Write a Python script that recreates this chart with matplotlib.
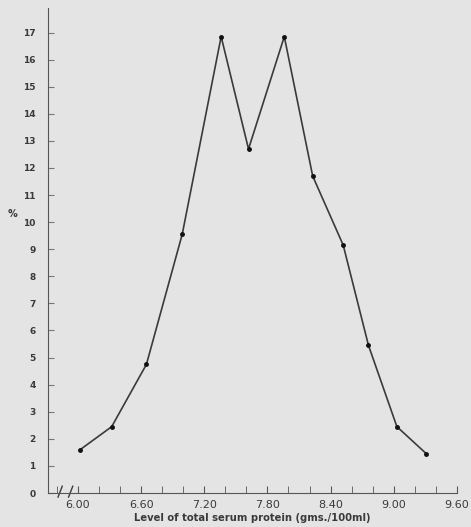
import numpy as np
import matplotlib.pyplot as plt
from matplotlib.ticker import MultipleLocator

# level of total serum protein (gms./100ml) and percentage
protein = [6.02, 6.32, 6.65, 6.99, 7.36, 7.62, 7.96, 8.23, 8.52, 8.76, 9.03, 9.31]
percent = [1.6, 2.45, 4.75, 9.55, 16.85, 12.7, 16.85, 11.7, 9.15, 5.45, 2.45, 1.45]

x_ticks = [6.00, 6.60, 7.20, 7.80, 8.40, 9.00, 9.60]
x_tick_labels = ["6.00", "6.60", "7.20", "7.80", "8.40", "9.00", "9.60"]
y_ticks = list(range(0, 18))

bg = "#e4e4e4"
ink = "#3a3a3a"

fig = plt.figure(figsize=(4.71, 5.27), dpi=100, facecolor=bg)
ax = fig.add_axes([0.102, 0.0645, 0.868, 0.92], facecolor=bg)

ax.plot(protein, percent, color=ink, lw=1.2, marker="o", ms=2.5, mfc="#111111", mec="#111111")

ax.set_xlim(5.715, 9.60)
ax.set_ylim(0, 17.9)

ax.spines["top"].set_visible(False)
ax.spines["right"].set_visible(False)
ax.spines["left"].set_color("#555555")
ax.spines["bottom"].set_color("#555555")

ax.set_yticks(y_ticks)
ax.set_yticklabels([str(v) for v in y_ticks], fontsize=6.5, fontweight="bold", color=ink)
ax.set_xticks(x_ticks)
ax.set_xticklabels(x_tick_labels, fontsize=8, color=ink)
ax.xaxis.set_minor_locator(MultipleLocator(0.2))
ax.tick_params(axis="y", direction="in", length=4, pad=9, color="#777777")
ax.tick_params(axis="x", which="both", direction="in", length=5, pad=5, color="#555555")

# axis break marks near the origin
for xb in [5.83, 5.93]:
    ax.plot([xb - 0.02, xb + 0.02], [-0.15, 0.25], color=ink, lw=1.0, clip_on=False)

ax.set_xlabel("Level of total serum protein (gms./100ml)", fontsize=7.2,
              fontweight="bold", color=ink, labelpad=2)
ax.text(-0.088, 0.575, "%", transform=ax.transAxes, fontsize=7, fontweight="bold",
        color=ink, ha="center", va="center")

fig.savefig("out.png", dpi=100, facecolor=bg)
